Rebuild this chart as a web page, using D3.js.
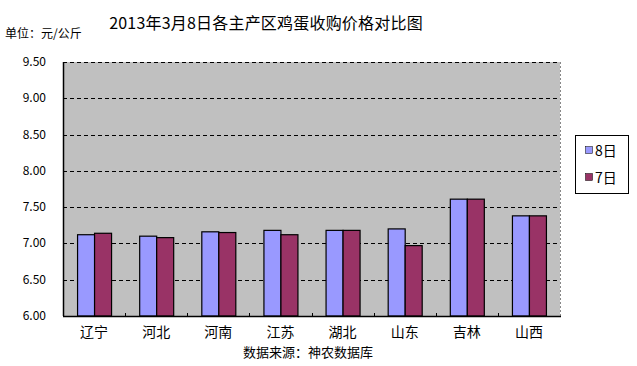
<!DOCTYPE html>
<html><head><meta charset="utf-8">
<script src="https://cdn.jsdelivr.net/npm/d3@7"></script>
<style>
html,body{margin:0;padding:0;background:#fff;}
text{font-family:"Noto Sans CJK SC","DejaVu Sans",sans-serif;}
</style></head>
<body>
<svg id="c" width="637" height="366"></svg>
<script>
const categories = ["辽宁","河北","河南","江苏","湖北","山东","吉林","山西"];
const seriesNames = ["8日","7日"];
const values8 = [7.12,7.10,7.16,7.18,7.18,7.20,7.61,7.38];
const values7 = [7.14,7.08,7.15,7.12,7.18,6.97,7.61,7.38];
const yTicks = [6.00,6.50,7.00,7.50,8.00,8.50,9.00,9.50];
const colors = ["#9999FF","#993366"];
const title = "2013年3月8日各主产区鸡蛋收购价格对比图";
const unitLabel = "单位：元/公斤";
const sourceLabel = "数据来源：神农数据库";

const svg = d3.select("#c");
const L=63, R=560, T=62, B=316;
const x = d3.scaleBand().domain(categories).range([L,R]).padding(0);
const y = d3.scaleLinear().domain([6,9.5]).range([B,T]);

svg.append("rect").attr("x",L).attr("y",T).attr("width",R-L).attr("height",B-T).attr("fill","#C0C0C0");
svg.append("line").attr("x1",R+0.5).attr("x2",R+0.5).attr("y1",T).attr("y2",B).attr("stroke","#888").attr("stroke-dasharray","2,2");
yTicks.filter(d=>d>6).forEach(t=>{
  svg.append("line").attr("x1",L).attr("x2",R).attr("y1",Math.round(y(t))+0.5).attr("y2",Math.round(y(t))+0.5)
    .attr("stroke","#000").attr("stroke-dasharray","4,3");
});
yTicks.forEach(t=>{
  svg.append("text").attr("x",46).attr("y",y(t)+4).attr("text-anchor","end").attr("font-size",12)
   .attr("font-family","'DejaVu Sans Mono',monospace").attr("fill","#000").text(t.toFixed(2));
});
const bw = 17;
const data = categories.map((c,i)=>({c, v:[values8[i],values7[i]]}));
data.forEach(d=>{
  const cx = x(d.c)+x.bandwidth()/2;
  d.v.forEach((v,j)=>{
    svg.append("rect").attr("x",cx-bw+j*bw+0.5).attr("y",y(v)).attr("width",bw).attr("height",B-y(v))
      .attr("fill",colors[j]).attr("stroke","#000").attr("stroke-width",1.2);
  });
});
svg.append("line").attr("x1",L+0.5).attr("x2",L+0.5).attr("y1",T).attr("y2",B).attr("stroke","#000").attr("stroke-width",1.5);
svg.append("line").attr("x1",L).attr("x2",R+1).attr("y1",B+0.5).attr("y2",B+0.5).attr("stroke","#000").attr("stroke-width",1.5);
categories.slice(1).forEach(c=>{
  svg.append("line").attr("x1",Math.round(x(c))+0.5).attr("x2",Math.round(x(c))+0.5).attr("y1",B-3).attr("y2",B).attr("stroke","#000");
});
categories.forEach(c=>{
  svg.append("text").attr("x",x(c)+x.bandwidth()/2).attr("y",337).attr("text-anchor","middle").attr("font-size",14).text(c);
});
svg.append("text").attr("x",266).attr("y",29).attr("text-anchor","middle").attr("font-size",16).attr("letter-spacing","0.2px").text(title);
svg.append("text").attr("x",5).attr("y",38).attr("font-size",12).text(unitLabel);
svg.append("text").attr("x",308).attr("y",357).attr("text-anchor","middle").attr("font-size",13).text(sourceLabel);
svg.append("rect").attr("x",575.5).attr("y",135.5).attr("width",53).attr("height",58).attr("fill","#fff").attr("stroke","#000");
seriesNames.forEach((n,i)=>{
  const yy = 151 + i*27;
  svg.append("rect").attr("x",585.5).attr("y",yy-4.5).attr("width",7).attr("height",7).attr("fill",colors[i]).attr("stroke","#000").attr("stroke-width",0.5);
  svg.append("text").attr("x",595).attr("y",yy+5).attr("font-size",14).text(n);
});
</script>
</body></html>
